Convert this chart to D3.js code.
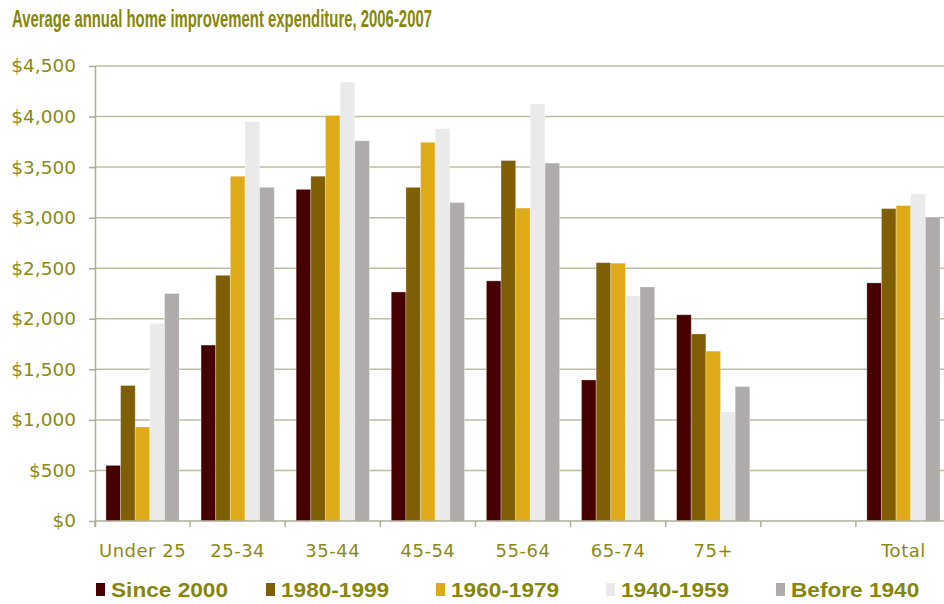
<!DOCTYPE html>
<html>
<head>
<meta charset="utf-8">
<script src="https://cdn.jsdelivr.net/npm/d3@7"></script>
<style>
  body { margin: 0; background: #fff; }
  svg { display: block; }
</style>
</head>
<body>
<svg id="chart" width="944" height="604"></svg>
<script>
// categories on the x axis (the blank slot is a gap in the original)
var categories = ['Under 25', '25-34', '35-44', '45-54', '55-64', '65-74', '75+', '', 'Total'];
var series = ['Since 2000', '1980-1999', '1960-1979', '1940-1959', 'Before 1940'];

// one array per series, same order as categories (null = no bar)
var since2000 = [550, 1740, 3280, 2265, 2375, 1395, 2040, null, 2355];
var from1980 = [1340, 2430, 3410, 3300, 3565, 2555, 1850, null, 3090];
var from1960 = [930, 3410, 4010, 3745, 3095, 2550, 1680, null, 3120];
var from1940 = [1955, 3950, 4340, 3880, 4125, 2225, 1080, null, 3235];
var before1940 = [2250, 3300, 3760, 3150, 3540, 2315, 1330, null, 3005];

var yTicks = [0, 500, 1000, 1500, 2000, 2500, 3000, 3500, 4000, 4500];

var values = [since2000, from1980, from1960, from1940, before1940];
var colors = ['#470000', '#7f5e06', '#dfaa18', '#eaeaea', '#b0abab'];
var olive = '#8a8a14';

var svg = d3.select('#chart');
var plotLeft = 95, plotRight = 951, plotTop = 66, plotBottom = 521;

var x = d3.scaleBand()
  .domain(categories)
  .range([plotLeft, plotRight])
  .paddingInner(0.23)
  .paddingOuter(0.115);

var xs = d3.scaleBand()
  .domain(series)
  .range([0, x.bandwidth()]);

var y = d3.scaleLinear()
  .domain([0, 4500])
  .range([plotBottom, plotTop]);

// title
svg.append('text')
  .attr('x', 12)
  .attr('y', 27)
  .attr('textLength', 420)
  .attr('lengthAdjust', 'spacingAndGlyphs')
  .style('font-family', '"Liberation Sans Narrow", "Arial Narrow", "Liberation Sans", sans-serif')
  .style('font-weight', 'bold')
  .style('font-size', '23px')
  .style('fill', '#86860a')
  .text('Average annual home improvement expenditure, 2006-2007');

// gridlines
svg.append('g')
  .selectAll('line')
  .data(yTicks.filter(function(d) { return d > 0; }))
  .join('line')
  .attr('x1', plotLeft)
  .attr('x2', 944)
  .attr('y1', function(d) { return y(d); })
  .attr('y2', function(d) { return y(d); })
  .attr('stroke', '#bdbda3')
  .attr('stroke-width', 1.5);

// bars
var rows = [];
categories.forEach(function(c, i) {
  series.forEach(function(s, j) {
    if (values[j][i] != null) rows.push({ cat: c, s: s, j: j, v: values[j][i] });
  });
});

svg.append('g')
  .selectAll('rect')
  .data(rows)
  .join('rect')
  .attr('x', function(d) { return x(d.cat) + xs(d.s); })
  .attr('width', xs.bandwidth())
  .attr('y', function(d) { return y(d.v); })
  .attr('height', function(d) { return y(0) - y(d.v); })
  .attr('fill', function(d) { return colors[d.j]; })
  .attr('stroke', 'rgba(255,255,255,0.3)')
  .attr('stroke-width', 1);

// y axis
var yAxis = svg.append('g')
  .attr('transform', 'translate(' + plotLeft + ',0)')
  .call(d3.axisLeft(y)
    .tickValues(yTicks)
    .tickSize(6)
    .tickPadding(13)
    .tickFormat(function(d) { return '$' + d3.format(',')(d); }));
yAxis.select('.domain').attr('d', 'M0.5,' + plotTop + 'V' + (plotBottom + 6));
yAxis.selectAll('.domain, line').attr('stroke', '#aeae92').attr('stroke-width', 1.5);
yAxis.selectAll('text')
  .style('font-family', '"DejaVu Sans", Verdana, sans-serif')
  .style('font-size', '18.5px')
  .style('fill', olive);

// x axis
var xAxis = svg.append('g')
  .attr('transform', 'translate(0,' + plotBottom + ')')
  .call(d3.axisBottom(x).tickSize(0).tickPadding(23));
xAxis.select('.domain').remove();
xAxis.selectAll('text')
  .style('font-family', '"DejaVu Sans", Verdana, sans-serif')
  .style('font-size', '18px')
  .style('letter-spacing', '0.5px')
  .style('fill', olive);

var bounds = d3.scaleLinear().domain([0, categories.length]).range([plotLeft, plotRight]);
svg.append('line')
  .attr('x1', plotLeft).attr('x2', 944)
  .attr('y1', plotBottom).attr('y2', plotBottom)
  .attr('stroke', '#aeae92').attr('stroke-width', 1.5);
svg.append('g')
  .selectAll('line')
  .data(d3.range(categories.length + 1))
  .join('line')
  .attr('x1', function(d) { return bounds(d); })
  .attr('x2', function(d) { return bounds(d); })
  .attr('y1', plotBottom)
  .attr('y2', plotBottom + 6)
  .attr('stroke', '#aeae92')
  .attr('stroke-width', 1.5);

// legend
var legend = svg.append('g')
  .attr('transform', 'translate(96,583)');
var item = legend.selectAll('g')
  .data(series)
  .join('g')
  .attr('transform', function(d, i) { return 'translate(' + (i * 170) + ',0)'; });
item.append('rect')
  .attr('width', 9)
  .attr('height', 13)
  .attr('fill', function(d, i) { return colors[i]; });
var labels = item.append('text')
  .attr('x', 15)
  .attr('y', 14)
  .style('font-family', '"Liberation Sans Narrow", "Arial Narrow", "Liberation Sans", sans-serif')
  .style('font-weight', 'bold')
  .style('font-size', '20px')
  .style('fill', '#86860a')
  .text(function(d) { return d; });

// the original legend lettering is wider than the narrow face; stretch it
var stretch = 117 / labels.node().getComputedTextLength();
labels.each(function() {
  this.setAttribute('textLength', this.getComputedTextLength() * stretch);
  this.setAttribute('lengthAdjust', 'spacingAndGlyphs');
});
</script>
</body>
</html>
